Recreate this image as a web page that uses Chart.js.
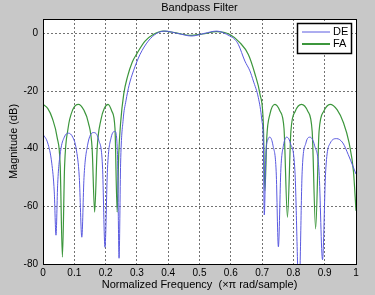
<!DOCTYPE html>
<html>
<head>
<meta charset="utf-8">
<script src="https://cdn.jsdelivr.net/npm/chart.js@4"></script>
<style>
  html, body { margin: 0; padding: 0; background: #c8c8c8; }
  #wrap { width: 375px; height: 295px; }
</style>
</head>
<body>
<div id="wrap"><canvas id="myChart" width="375" height="295"></canvas></div>
<script>
// magnitude response (freq in x pi rad/sample, dB)
const deFreq = [0, 0.015, 0.028, 0.036, 0.0415, 0.047, 0.056, 0.068, 0.081, 0.095, 0.106, 0.116, 0.124, 0.131, 0.142, 0.161, 0.178, 0.19, 0.198, 0.206, 0.218, 0.23, 0.238, 0.243, 0.248, 0.256, 0.265, 0.275, 0.289, 0.31, 0.336, 0.363, 0.39, 0.43, 0.475, 0.515, 0.555, 0.597, 0.613, 0.624, 0.645, 0.661, 0.672, 0.688, 0.699, 0.704, 0.707, 0.712, 0.718, 0.725, 0.735, 0.745, 0.752, 0.76, 0.768, 0.778, 0.79, 0.805, 0.818, 0.828, 0.84, 0.853, 0.868, 0.882, 0.893, 0.903, 0.918, 0.938, 0.958, 0.975, 0.99, 1.0];
const deMag  = [-35, -38, -45, -55, -70, -52, -41, -36, -34.6, -36, -40, -50, -70.7, -50, -39, -34.4, -37, -46, -74.2, -47, -36, -34, -42, -78, -45, -30, -23.4, -18, -13, -7.3, -2.7, 0, 0.8, 0, -0.9, 0, 0.8, -0.9, -2.1, -3.8, -9.6, -13, -16.5, -22.3, -30, -38, -63, -42, -37, -36, -39, -48, -74, -47, -39, -36, -38, -48, -90, -48, -38, -36, -39, -48, -78.5, -48, -38, -36.5, -38, -42, -46, -48.8];

const faFreq = [0, 0.015, 0.03, 0.045, 0.055, 0.062, 0.069, 0.08, 0.095, 0.113, 0.13, 0.145, 0.157, 0.165, 0.173, 0.185, 0.196, 0.208, 0.22, 0.23, 0.237, 0.242, 0.248, 0.258, 0.27, 0.285, 0.3, 0.326, 0.352, 0.384, 0.425, 0.47, 0.51, 0.555, 0.597, 0.629, 0.656, 0.677, 0.693, 0.704, 0.709, 0.715, 0.725, 0.741, 0.757, 0.77, 0.781, 0.792, 0.806, 0.826, 0.846, 0.86, 0.871, 0.882, 0.897, 0.917, 0.94, 0.96, 0.978, 0.992, 1.0];
const faMag  = [-24.6, -26, -29.5, -36, -46, -77.6, -46, -33, -26.5, -24.6, -26.5, -31, -40, -62, -40, -30, -26, -24.6, -27, -33, -62, -42, -31, -21, -15, -10, -7, -2.7, -0.4, 0.8, 0.2, -0.7, -0.2, 0.6, -0.4, -3.2, -7.3, -14, -21, -31.5, -54.6, -36, -28, -24.6, -26.9, -33, -63.8, -34, -27, -24.6, -27, -34, -67.8, -34, -27, -24.6, -26.5, -31, -38, -48, -61.5];

const xTicks = [0, 0.1, 0.2, 0.3, 0.4, 0.5, 0.6, 0.7, 0.8, 0.9, 1];
const yTicks = [-80, -60, -40, -20, 0];

const seriesNames = ['DE', 'FA'];
const seriesColors = ['#5a5ae0', '#3c963c'];

const toPoints = (xs, ys) => xs.map((x, i) => ({ x: x, y: ys[i] }));

// frame, title, axis labels and the boxed legend, MATLAB style
const matlabDecor = {
    id: 'matlabDecor',
    afterDraw(chart) {
        const ctx = chart.ctx;
        const a = chart.chartArea;
        ctx.save();
        ctx.strokeStyle = '#000';
        ctx.lineWidth = 1;
        ctx.setLineDash([]);
        ctx.strokeRect(Math.round(a.left) + 0.5, Math.round(a.top) + 0.5,
                       Math.round(a.right - a.left), Math.round(a.bottom - a.top));

        ctx.fillStyle = '#000';
        ctx.font = '11px "Liberation Sans", Arial, sans-serif';
        ctx.textAlign = 'center';
        ctx.textBaseline = 'middle';
        ctx.fillText('Bandpass Filter', (a.left + a.right) / 2, 8);
        ctx.fillText('Normalized Frequency  (\u00d7\u03c0 rad/sample)', (a.left + a.right) / 2, 285);

        ctx.save();
        ctx.translate(14, (a.top + a.bottom) / 2);
        ctx.rotate(-Math.PI / 2);
        ctx.fillText('Magnitude (dB)', 0, 0);
        ctx.restore();

        // legend box
        const bx = 297, by = 23, bw = 54, bh = 30;
        ctx.fillStyle = '#fff';
        ctx.fillRect(bx, by, bw, bh);
        ctx.lineWidth = 1.5;
        ctx.strokeRect(bx + 0.5, by + 0.5, bw, bh);
        ctx.textAlign = 'left';
        seriesNames.forEach((name, i) => {
            const ly = by + 9 + i * 12;
            ctx.strokeStyle = seriesColors[i];
            ctx.lineWidth = i === 0 ? 1 : 2;
            ctx.beginPath();
            ctx.moveTo(bx + 5, ly);
            ctx.lineTo(bx + 33, ly);
            ctx.stroke();
            ctx.fillStyle = '#000';
            ctx.fillText(name, bx + 36, ly);
        });
        ctx.restore();
    }
};

const ctx = document.getElementById('myChart');
new Chart(ctx, {
    type: 'line',
    data: {
        datasets: [{
            label: seriesNames[0],
            data: toPoints(deFreq, deMag),
            borderColor: seriesColors[0],
            borderWidth: 1,
            pointRadius: 0,
            cubicInterpolationMode: 'monotone'
        },
        {
            label: seriesNames[1],
            data: toPoints(faFreq, faMag),
            borderColor: seriesColors[1],
            borderWidth: 1.2,
            pointRadius: 0,
            cubicInterpolationMode: 'monotone'
        }]
    },
    options: {
        responsive: false,
        animation: false,
        devicePixelRatio: 1,
        layout: { padding: { top: 19, right: 19, left: 0, bottom: 0 } },
        scales: {
            x: {
                type: 'linear',
                min: 0,
                max: 1,
                afterBuildTicks: s => { s.ticks = xTicks.map(v => ({ value: v })); },
                afterFit: s => { s.height = 31; },
                grid: { color: 'rgba(0,0,0,0.55)', drawTicks: false },
                border: { display: false, dash: [2, 2] },
                ticks: {
                    color: '#000',
                    padding: 3,
                    maxRotation: 0,
                    font: { family: '"Liberation Sans", Arial, sans-serif', size: 10 },
                    callback: v => String(Math.round(v * 10) / 10)
                }
            },
            y: {
                min: -80,
                max: 5,
                afterBuildTicks: s => { s.ticks = yTicks.map(v => ({ value: v })); },
                afterFit: s => { s.width = 43; },
                grid: { color: 'rgba(0,0,0,0.55)', drawTicks: false },
                border: { display: false, dash: [2, 2] },
                ticks: {
                    color: '#000',
                    padding: 5,
                    font: { family: '"Liberation Sans", Arial, sans-serif', size: 10 }
                }
            }
        },
        plugins: {
            legend: { display: false },
            tooltip: { enabled: false }
        }
    },
    plugins: [{
        id: 'whiteArea',
        beforeDraw(chart) {
            const a = chart.chartArea;
            chart.ctx.save();
            chart.ctx.fillStyle = '#fff';
            chart.ctx.fillRect(a.left, a.top, a.right - a.left, a.bottom - a.top);
            chart.ctx.restore();
        }
    }, matlabDecor]
});
</script>
</body>
</html>
